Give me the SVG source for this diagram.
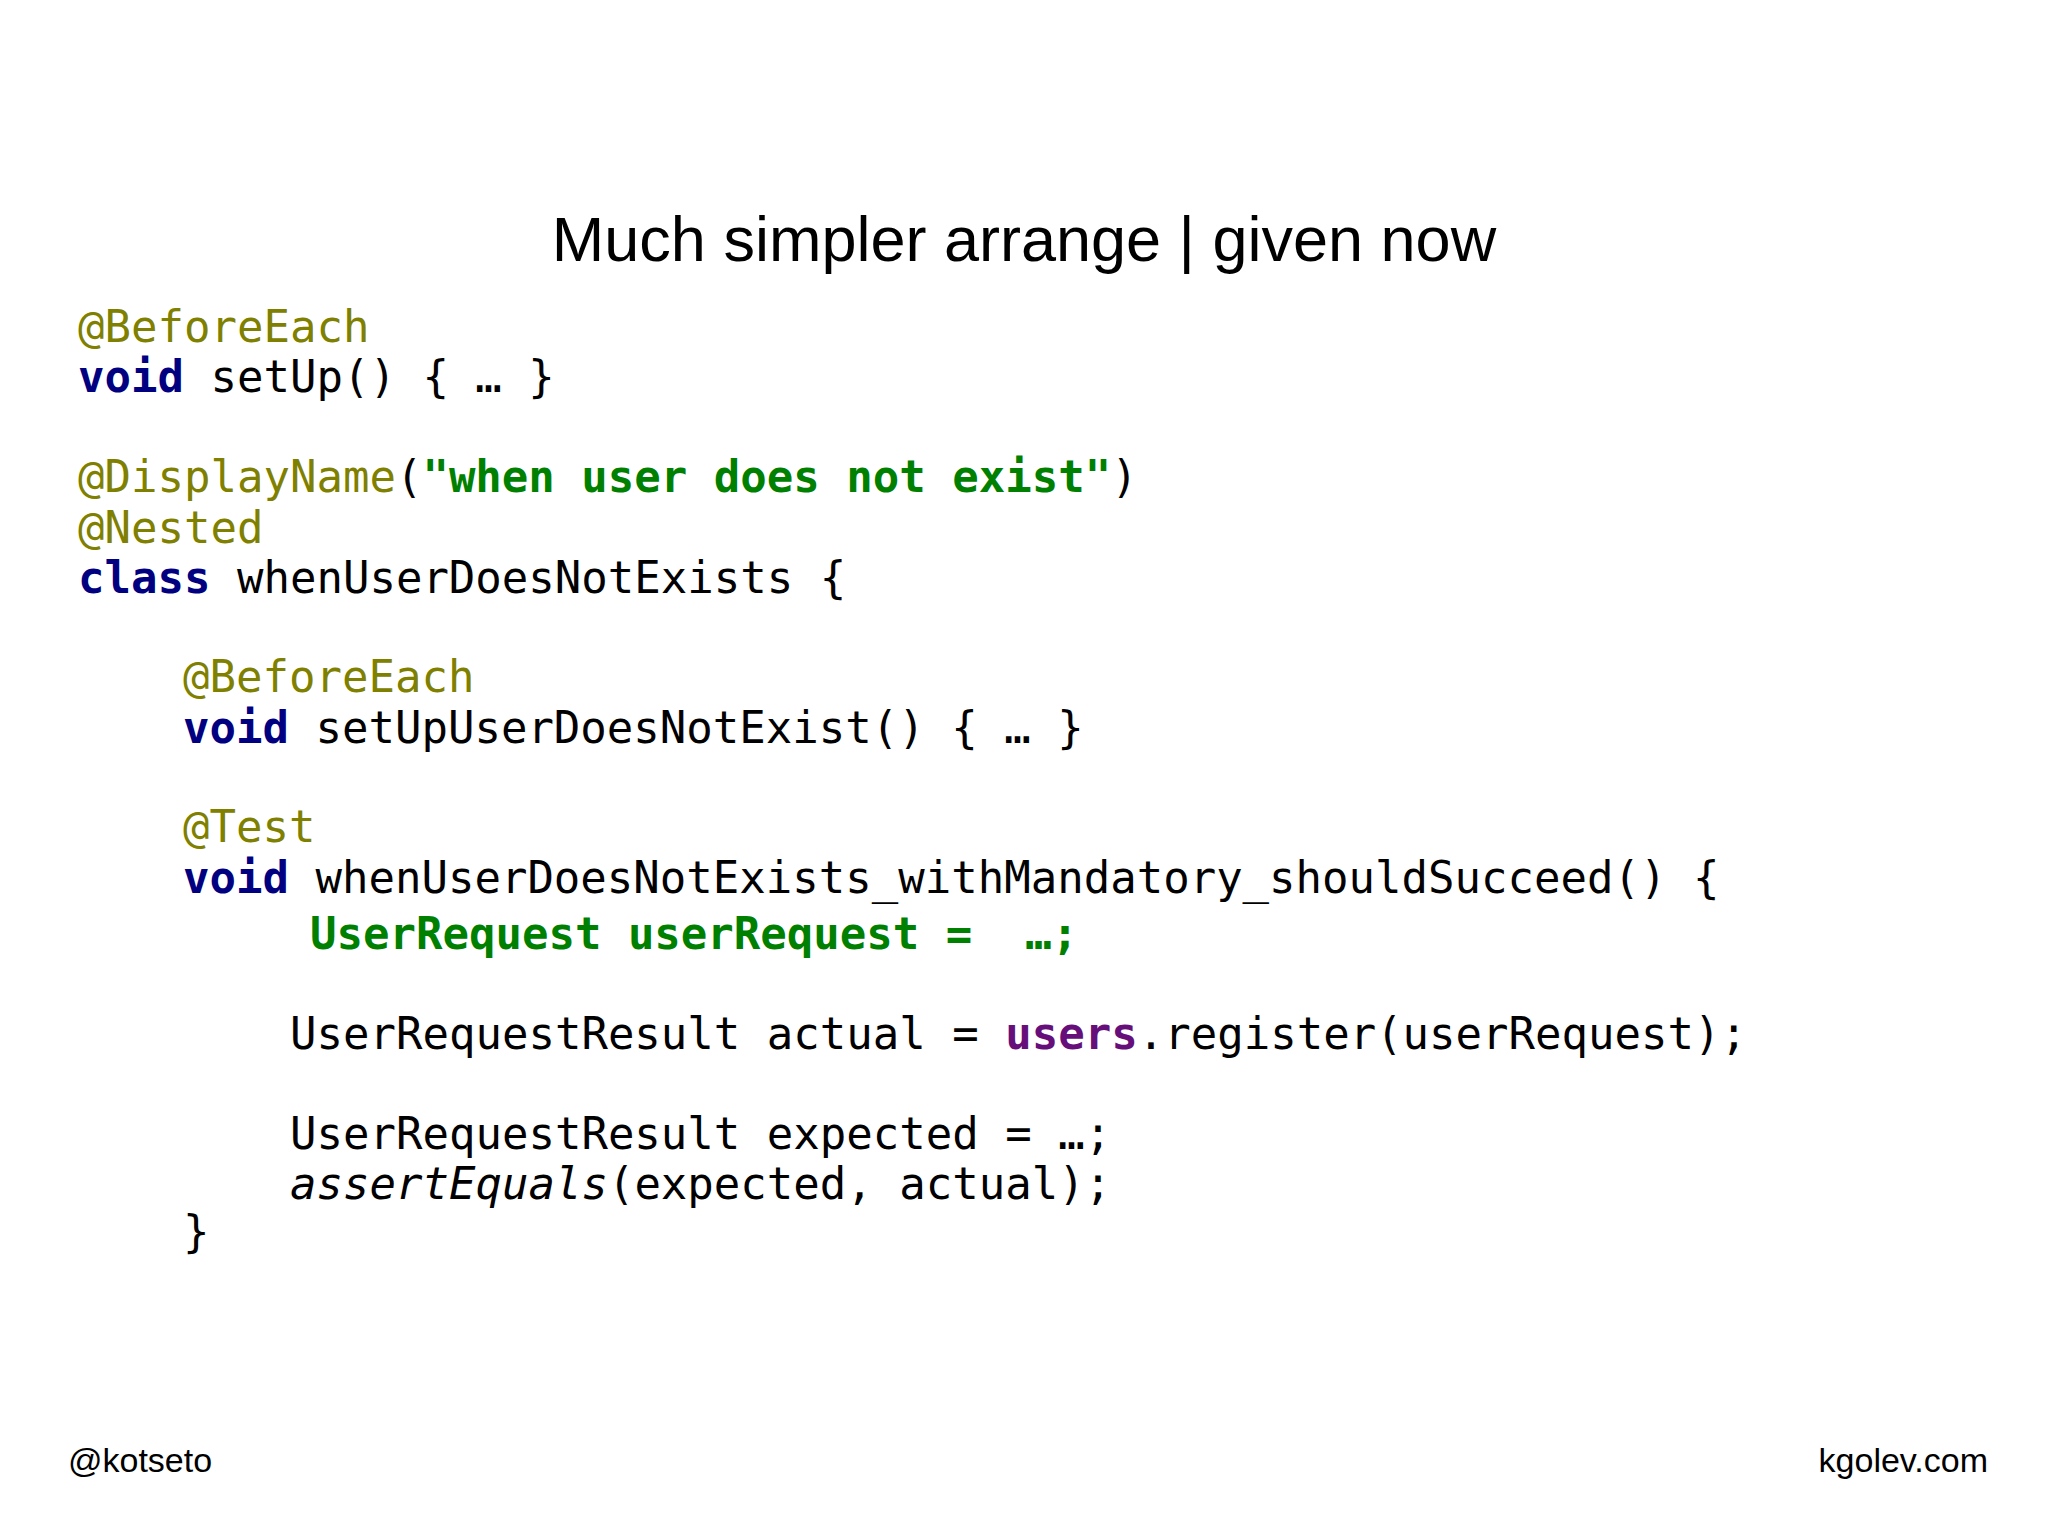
<svg xmlns="http://www.w3.org/2000/svg" width="2048" height="1536" viewBox="0 0 2048 1536">
<style>
.c{font-family:"DejaVu Sans Mono","Liberation Mono",monospace;font-size:44px;fill:#000;white-space:pre}
.a{fill:#808000}
.k{fill:#000080;font-weight:bold}
.s{fill:#008000;font-weight:bold}
.p{fill:#660e7a;font-weight:bold}
.f{font-family:"Liberation Sans","Helvetica",sans-serif;fill:#000}
</style>
<rect width="2048" height="1536" fill="#fff"/>
<text class="f" x="1024" y="261" font-size="63" text-anchor="middle">Much simpler arrange | given now</text>
<g xml:space="preserve">
<text class="c" x="78" y="342"><tspan class="a">@BeforeEach</tspan></text>
<text class="c" x="78" y="392"><tspan class="k">void</tspan> setUp() { … }</text>
<text class="c" x="78" y="492"><tspan class="a">@DisplayName</tspan>(<tspan class="s">"when user does not exist"</tspan>)</text>
<text class="c" x="78" y="543"><tspan class="a">@Nested</tspan></text>
<text class="c" x="78" y="593"><tspan class="k">class</tspan> whenUserDoesNotExists {</text>
<text class="c" x="183" y="692"><tspan class="a">@BeforeEach</tspan></text>
<text class="c" x="183" y="743"><tspan class="k">void</tspan> setUpUserDoesNotExist() { … }</text>
<text class="c" x="183" y="842"><tspan class="a">@Test</tspan></text>
<text class="c" x="183" y="893"><tspan class="k">void</tspan> whenUserDoesNotExists_withMandatory_shouldSucceed() {</text>
<text class="c s" x="310" y="949" font-size="48">UserRequest userRequest =  …;</text>
<text class="c" x="290" y="1049">UserRequestResult actual = <tspan class="p">users</tspan>.register(userRequest);</text>
<text class="c" x="290" y="1149">UserRequestResult expected = …;</text>
<text class="c" x="290" y="1199"><tspan font-style="italic">assertEquals</tspan>(expected, actual);</text>
<text class="c" x="183" y="1247">}</text>
</g>
<text class="f" x="68" y="1472" font-size="34">@kotseto</text>
<text class="f" x="1988" y="1472" font-size="34" text-anchor="end">kgolev.com</text>
</svg>
